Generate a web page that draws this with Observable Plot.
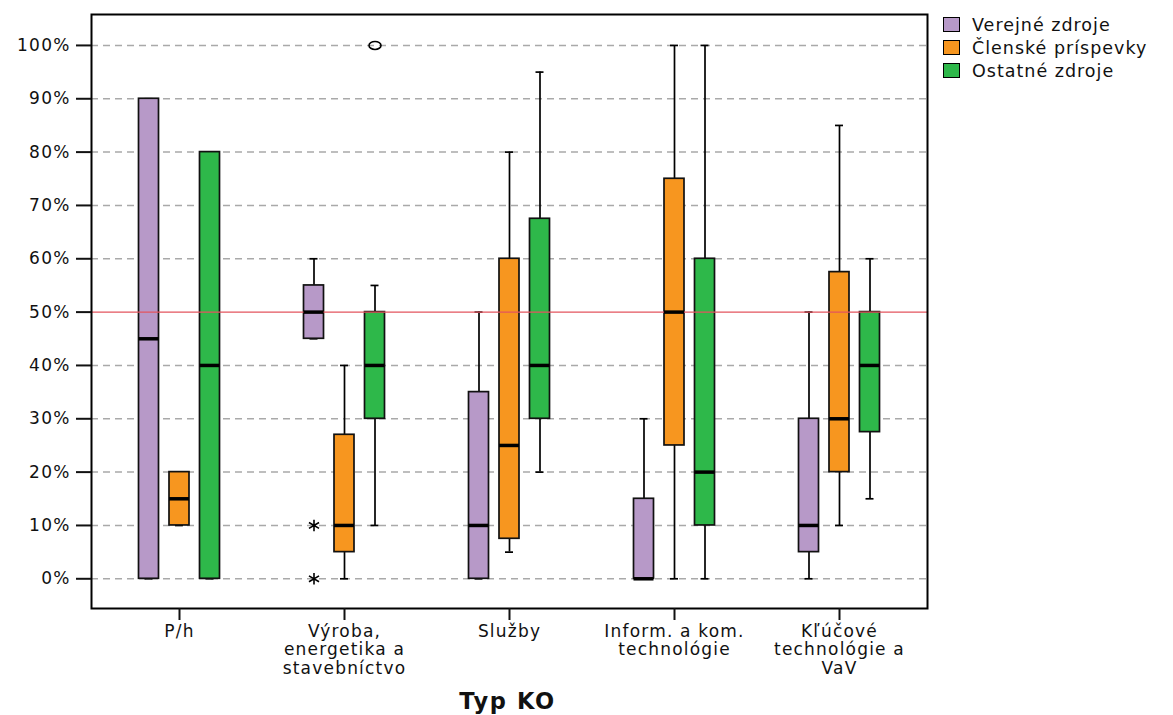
<!DOCTYPE html>
<html>
<head>
<meta charset="utf-8">
<script src="https://cdn.jsdelivr.net/npm/d3@7"></script>
<script src="https://cdn.jsdelivr.net/npm/@observablehq/plot@0.6"></script>
<style>
  body { margin: 0; background: #fff; font-family: "DejaVu Sans", sans-serif; }
  #wrap { position: relative; width: 1173px; height: 715px; }
  #chart svg text { letter-spacing: 1.2px; }
  .legend { position: absolute; left: 943px; top: 13px; font-size: 17.5px; letter-spacing: 1px; color: #111; }
  .legend .row { display: flex; align-items: center; height: 23px; }
  .legend .sw { width: 15px; height: 13px; border: 1.5px solid #000; margin-right: 12px; }
  .xtitle { position: absolute; left: 0; width: 1015px; top: 688px; text-align: center; font-weight: bold; font-size: 22.5px; letter-spacing: 1.6px; color: #111; }
</style>
</head>
<body>
<div id="wrap">
  <div id="chart"></div>
  <div class="legend" id="legend"></div>
  <div class="xtitle">Typ KO</div>
</div>
<script>
// ---- data ----
const categories = ["P/h", "Výroba,\nenergetika a\nstavebníctvo", "Služby", "Inform. a kom.\ntechnológie", "Kľúčové\ntechnológie a\nVaV"];
const seriesNames = ["Verejné zdroje", "Členské príspevky", "Ostatné zdroje"];
// [whisker min, Q1, median, Q3, whisker max] per category (%)
const verejneZdroje    = [[0, 0, 45, 90, 90], [45, 45, 50, 55, 60], [0, 0, 10, 35, 50], [0, 0, 0, 15, 30], [0, 5, 10, 30, 50]];
const clenskePrispevky = [[10, 10, 15, 20, 20], [0, 5, 10, 27, 40], [5, 7.5, 25, 60, 80], [0, 25, 50, 75, 100], [10, 20, 30, 57.5, 85]];
const ostatneZdroje    = [[0, 0, 40, 80, 80], [10, 30, 40, 50, 55], [20, 30, 40, 67.5, 95], [0, 10, 20, 60, 100], [15, 27.5, 40, 50, 60]];
// outliers: category index, series index, value, kind
const outlierCategory = [1, 1, 1];
const outlierSeries   = [0, 0, 2];
const outlierValue    = [10, 0, 100];
const outlierKind     = ["extreme", "extreme", "outlier"];
const yTicks = [0, 10, 20, 30, 40, 50, 60, 70, 80, 90, 100];
const threshold = 50;

// ---- styles ----
const seriesColors = ["#b799c8", "#f7961f", "#2eb84a"];
const seriesOffsets = [-30.5, 0, 30.5];

const seriesStats = [verejneZdroje, clenskePrispevky, ostatneZdroje];
const rows = seriesStats.flatMap((stats, si) => stats.map((s, ci) => ({
  category: categories[ci], series: seriesNames[si],
  min: s[0], q1: s[1], median: s[2], q3: s[3], max: s[4]
})));
const outliers = outlierValue.map((v, i) => ({
  category: categories[outlierCategory[i]], series: seriesNames[outlierSeries[i]], value: v, kind: outlierKind[i]
}));

const ellipse = {
  draw(ctx) {
    const rx = 6, ry = 4, k = 0.5523;
    ctx.moveTo(rx, 0);
    ctx.bezierCurveTo(rx, ry * k, rx * k, ry, 0, ry);
    ctx.bezierCurveTo(-rx * k, ry, -rx, ry * k, -rx, 0);
    ctx.bezierCurveTo(-rx, -ry * k, -rx * k, -ry, 0, -ry);
    ctx.bezierCurveTo(rx * k, -ry, rx, -ry * k, rx, 0);
    ctx.closePath();
  }
};

const seriesMarks = seriesNames.flatMap((name, i) => {
  const data = rows.filter(r => r.series === name);
  const dx = seriesOffsets[i];
  const ext = outliers.filter(o => o.series === name && o.kind === "extreme");
  const out = outliers.filter(o => o.series === name && o.kind === "outlier");
  return [
    Plot.ruleX(data, {x: "category", y1: "min", y2: "max", dx, stroke: "#000", strokeWidth: 1.7}),
    Plot.tickY(data, {x: "category", y: "min", dx, insetLeft: 6, insetRight: 6, stroke: "#000", strokeWidth: 1.7}),
    Plot.tickY(data, {x: "category", y: "max", dx, insetLeft: 6, insetRight: 6, stroke: "#000", strokeWidth: 1.7}),
    Plot.barY(data, {x: "category", y1: "q1", y2: "q3", dx, fill: seriesColors[i], stroke: "#111", strokeWidth: 1.7}),
    Plot.dot(ext, {x: "category", y: "value", dx, symbol: "asterisk", r: 5.5, stroke: "#000", strokeWidth: 1.6}),
    Plot.dot(out, {x: "category", y: "value", dx, symbol: ellipse, r: 5, stroke: "#000", strokeWidth: 1.6, fill: "none"})
  ];
});
const medianMarks = seriesNames.map((name, i) =>
  Plot.tickY(rows.filter(r => r.series === name), {x: "category", y: "median", dx: seriesOffsets[i], stroke: "#000", strokeWidth: 3.5})
);

const chart = Plot.plot({
  width: 1173,
  height: 715,
  marginLeft: 91,
  marginRight: 246,
  marginTop: 14,
  marginBottom: 107,
  style: {fontFamily: "DejaVu Sans, sans-serif", fontSize: "17px", color: "#111", background: "#fff"},
  x: {domain: categories, paddingInner: 0.879, paddingOuter: 0.468, axis: null},
  y: {domain: [-5.57, 105.8], axis: null},
  marks: [
    Plot.ruleY(yTicks.filter(t => t !== threshold), {stroke: "#a9a9a9", strokeWidth: 1.5, strokeDasharray: "7,5"}),
    ...seriesMarks,
    Plot.ruleY([threshold], {stroke: "#e3545e", strokeWidth: 1.3}),
    ...medianMarks,
    Plot.frame({stroke: "#000", strokeWidth: 2}),
    Plot.axisY(yTicks, {tickFormat: d => d + "%", tickSize: 15, tickPadding: 6, strokeWidth: 2, fontSize: 17, label: null}),
    Plot.axisX({tickSize: 12, tickPadding: 3, strokeWidth: 2, fontSize: 17, lineHeight: 1.1, label: null})
  ]
});
document.getElementById("chart").appendChild(chart);

const legend = document.getElementById("legend");
seriesNames.forEach((name, i) => {
  const row = document.createElement("div");
  row.className = "row";
  const sw = document.createElement("div");
  sw.className = "sw";
  sw.style.background = seriesColors[i];
  const lab = document.createElement("span");
  lab.textContent = name;
  row.appendChild(sw);
  row.appendChild(lab);
  legend.appendChild(row);
});
</script>
</body>
</html>
